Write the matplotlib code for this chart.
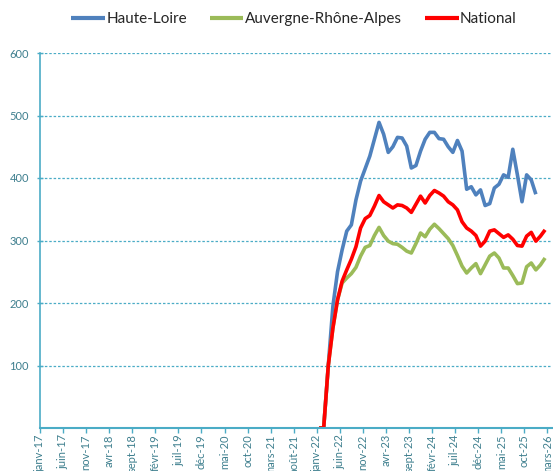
import matplotlib
matplotlib.use("Agg")
import matplotlib.pyplot as plt
import numpy as np

month_names = ["janv", "févr", "mars", "avr", "mai", "juin", "juil", "août", "sept", "oct", "nov", "déc"]
start_year = 2017
n_months = 111
data_start = 60  # janv-22

haute_loire = [0, 0, 100, 195, 250, 285, 315, 325, 365, 395, 415, 435, 462, 489, 470, 441,
               450, 465, 464, 451, 416, 420, 443, 462, 473, 473, 463, 462, 450, 441, 460, 443,
               382, 386, 373, 381, 356, 359, 384, 390, 405, 401, 446, 405, 362, 405, 397, 374]
auvergne = [0, 0, 100, 160, 205, 232, 240, 247, 257, 275, 289, 292, 308, 321, 308, 299,
            295, 294, 289, 283, 280, 295, 312, 306, 318, 326, 319, 311, 303, 292, 276, 259,
            248, 256, 263, 247, 261, 275, 280, 272, 256, 256, 244, 231, 232, 258, 264, 253,
            261, 272]
national = [0, 0, 100, 160, 205, 235, 253, 270, 290, 320, 335, 340, 355, 372, 362, 357,
            352, 357, 356, 352, 345, 358, 371, 360, 372, 380, 376, 371, 362, 357, 349, 330,
            320, 315, 308, 291, 299, 315, 317, 311, 305, 309, 302, 292, 291, 307, 313, 299,
            307, 317]

series = [("Haute-Loire", haute_loire, "#4F81BD"),
          ("Auvergne-Rhône-Alpes", auvergne, "#9BBB59"),
          ("National", national, "#FF0000")]

plt.rcParams['font.family'] = ['Lato', 'DejaVu Sans']
fig = plt.figure(figsize=(5.53, 4.71), dpi=100)
ax = fig.add_axes([40/553, 43/471, 512/553, 375/471])

teal = "#4BACC6"
lab_col = "#3E7F8E"
for name, vals, col in series:
    x = data_start + np.arange(len(vals)) + 0.5
    ax.plot(x, vals, color=col, lw=2.6, label=name, solid_joinstyle='round', solid_capstyle='butt')

ax.set_xlim(0, n_months)
ax.set_ylim(0, 600)
yt = [100, 200, 300, 400, 500, 600]
ax.set_yticks(yt)
ax.set_yticklabels([str(v) for v in yt], fontsize=8, color=lab_col)
ax.yaxis.grid(True, color=teal, linestyle=(0, (2.0, 1.5)), lw=0.9)
ax.set_axisbelow(True)

ticks = list(range(0, n_months, 5))
labels = [f"{month_names[t % 12]}-{(start_year + t // 12) % 100:02d}" for t in ticks]
ax.set_xticks(ticks)
ax.set_xticklabels(labels, rotation=90, fontsize=8, color=lab_col)
ax.tick_params(axis='x', length=3.5, color=teal, width=1, pad=1)
ax.tick_params(axis='y', length=4, color=teal, width=1, direction='inout', pad=6)

for s in ["top", "right"]:
    ax.spines[s].set_visible(False)
ax.spines["left"].set_color(teal)
ax.spines["bottom"].set_color(teal)
ax.spines["left"].set_linewidth(1.2)
ax.spines["bottom"].set_linewidth(1.5)

leg = fig.legend(loc="center", bbox_to_anchor=(294/553, 1 - 19/471), ncol=3, frameon=False,
                 fontsize=11, handlelength=2.2, handletextpad=0.1, columnspacing=1.5)
for t in leg.get_texts():
    t.set_color("#262626")
for l in leg.get_lines():
    l.set_linewidth(3)

fig.savefig("out.png", dpi=100)
